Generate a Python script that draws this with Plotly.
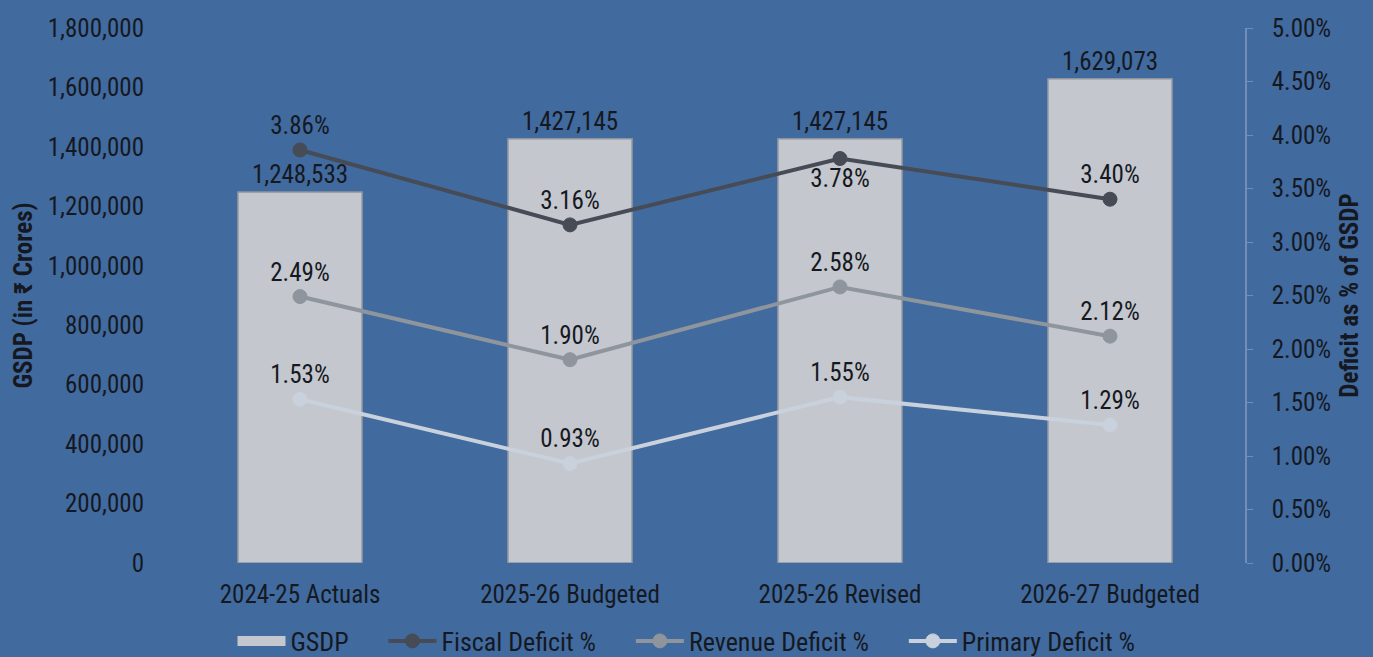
import plotly.graph_objects as go

categories = ["2024-25 Actuals", "2025-26 Budgeted", "2025-26 Revised", "2026-27 Budgeted"]
gsdp = [1248533, 1427145, 1427145, 1629073]
fiscal_deficit = [3.86, 3.16, 3.78, 3.40]
revenue_deficit = [2.49, 1.90, 2.58, 2.12]
primary_deficit = [1.53, 0.93, 1.55, 1.29]
fiscal_text_pos = ["top center", "top center", "bottom center", "top center"]
pct_ticks = [0.0, 0.5, 1.0, 1.5, 2.0, 2.5, 3.0, 3.5, 4.0, 4.5, 5.0]

BG = "#416a9f"
FONT = "Liberation Sans Narrow, Roboto Condensed, Roboto, sans-serif"
TXT = "#15191f"
FS = 25
BAR_COLOR = "#c4c7cd"
PAD = "\u00a0" * 5

fig = go.Figure()
fig.add_trace(go.Bar(
    x=categories, y=gsdp, name="GSDP", showlegend=False,
    marker=dict(color=BAR_COLOR, line=dict(color="#8d949d", width=1.5)),
    width=0.46,
    text=[f"{v:,}" for v in gsdp], textposition="outside",
    textfont=dict(size=FS, color=TXT, family=FONT),
    cliponaxis=False,
))
# legend-only entry drawn as a wide block, like the reference legend swatch
fig.add_trace(go.Scatter(
    x=[None], y=[None], name="GSDP" + PAD, mode="lines",
    line=dict(color=BAR_COLOR, width=16),
))

def line(vals, name, color, tpos):
    return go.Scatter(
        x=categories, y=vals, name=name, yaxis="y2",
        mode="lines+markers+text",
        line=dict(color=color, width=4),
        marker=dict(size=14, color=color, line=dict(color=color, width=1)),
        text=[f"{v:.2f}%" for v in vals], textposition=tpos,
        textfont=dict(size=FS, color=TXT, family=FONT),
        cliponaxis=False,
    )

fig.add_trace(line(fiscal_deficit, "Fiscal Deficit %" + PAD, "#464b56", fiscal_text_pos))
fig.add_trace(line(revenue_deficit, "Revenue Deficit %" + PAD, "#8e959c", "top center"))
fig.add_trace(line(primary_deficit, "Primary Deficit %", "#c9d1dd", "top center"))

fig.update_layout(
    width=1373, height=657,
    paper_bgcolor=BG, plot_bgcolor=BG,
    margin=dict(l=165, r=128, t=28, b=94, autoexpand=False),
    font=dict(family=FONT, size=FS, color=TXT),
    bargap=0.54,
    showlegend=True,
    legend=dict(orientation="h", xref="container", x=0.5, xanchor="center",
                yref="container", y=16 / 657, yanchor="middle",
                font=dict(size=26, color=TXT, family=FONT), bgcolor="rgba(0,0,0,0)",
                itemwidth=48, tracegroupgap=0),
    xaxis=dict(showgrid=False, showline=False, ticks="", ticklabelstandoff=14,
               tickfont=dict(size=FS, color=TXT, family=FONT)),
    yaxis=dict(title=dict(text="GSDP (in ₹ Crores)", font=dict(size=FS, color=TXT, family=FONT, weight="bold"), standoff=8),
               range=[0, 1800000], dtick=200000, tickformat=",d",
               showgrid=False, zeroline=False, showline=False, ticklabelstandoff=20,
               tickfont=dict(size=FS, color=TXT, family=FONT)),
    yaxis2=dict(title=dict(text="Deficit as % of GSDP", font=dict(size=FS, color=TXT, family=FONT, weight="bold"), standoff=10),
                overlaying="y", side="right", range=[0, 5],
                tickvals=pct_ticks,
                ticktext=[f"{t:.2f}%" for t in pct_ticks],
                showgrid=False, zeroline=False,
                showline=True, linecolor="rgba(200,210,225,0.35)", linewidth=1.5,
                ticks="outside", ticklen=6, tickcolor="rgba(200,210,225,0.35)",
                ticklabelstandoff=14,
                tickfont=dict(size=FS, color=TXT, family=FONT)),
)

fig.write_html("out.html", config={"displayModeBar": False},
               post_script="document.body.style.margin='0';document.body.style.background='%s';" % BG)
